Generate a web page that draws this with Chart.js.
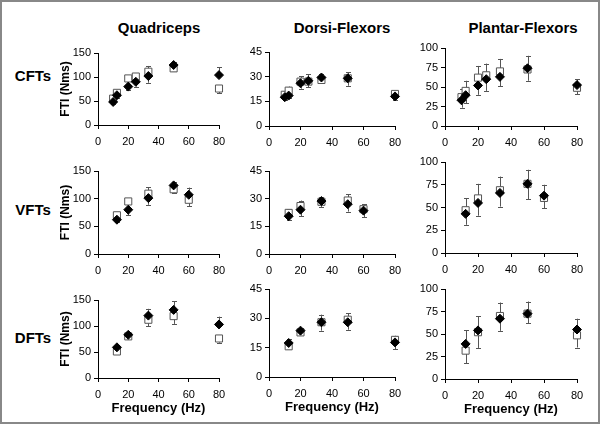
<!DOCTYPE html>
<html>
<head>
<meta charset="utf-8">
<script src="https://cdn.jsdelivr.net/npm/chart.js@4.4.0/dist/chart.umd.min.js"></script>
<style>
  body { margin: 0; background: #fff; }
  #page { position: relative; width: 600px; height: 424px; overflow: hidden; background: #fff;
          font-family: "Liberation Sans", Arial, sans-serif; }
  #frame { position: absolute; left: 0; top: 0; width: 600px; height: 424px; box-sizing: border-box;
           border: 2px solid #888; pointer-events: none; }
  .lbl { position: absolute; font-weight: bold; font-size: 15px; color: #000; white-space: nowrap;
         transform: translate(-50%, -50%); }
  canvas { position: absolute; }
</style>
</head>
<body>
<div id="page">
  <div class="lbl" style="left:159px; top:27px;">Quadriceps</div>
  <div class="lbl" style="left:342px; top:27px;">Dorsi-Flexors</div>
  <div class="lbl" style="left:523px; top:27px;">Plantar-Flexors</div>
  <div class="lbl" style="left:33px; top:75px;">CFTs</div>
  <div class="lbl" style="left:33px; top:209px;">VFTs</div>
  <div class="lbl" style="left:33px; top:337px;">DFTs</div>
  <div id="frame"></div>
</div>
<script>
// frequencies (Hz) for each train type
var cftFreq = [10, 12.5, 20, 25, 33.3, 50, 80];
var vftFreq = [12.5, 20, 33.3, 50, 60];
var dftFreq = [12.5, 20, 33.3, 50, 80];

// tick labels
var xTicks = [0, 20, 40, 60, 80];
var quadTicks = [0, 50, 100, 150];
var dorsiTicks = [0, 15, 30, 45];
var plantarTicks = [0, 25, 50, 75, 100];

// FTI (Nms): A = filled diamonds, B = open squares
var quadCftA = [48, 62, 80, 90, 102, 125, 104];
var quadCftB = [55, 67, 97, 101, 111, 118, 76];
var quadCftAErr = [5, 5, 8, 10, 14, 6, 16];
var quadCftBErr = [5, 5, 5, 7, 12, 6, 10];

var dorsiCftA = [17.5, 18.5, 26, 27.5, 29.5, 29, 18];
var dorsiCftB = [19, 21.5, 27, 27, 28, 29, 19.5];
var dorsiCftAErr = [1.5, 1.5, 3.3, 4, 2.3, 3.6, 2];
var dorsiCftBErr = [2.3, 2.5, 3.2, 3.5, 2, 4.5, 1.8];

var plantarCftA = [33, 39.5, 52, 60, 63, 74, 52.5];
var plantarCftB = [37, 45, 62, 65, 70, 72.5, 49];
var plantarCftAErr = [9.5, 10, 12, 15, 12, 16, 7.5];
var plantarCftBErr = [11, 13, 15, 15, 16, 14.5, 8];

var quadVftA = [62, 80, 101, 124, 107];
var quadVftB = [70, 95, 109, 117, 98];
var quadVftAErr = [5, 10, 12, 6, 13];
var quadVftBErr = [5, 6, 12, 6, 12];

var dorsiVftA = [20.5, 24, 28.7, 27, 23.5];
var dorsiVftB = [22.3, 26, 28.3, 29, 24.3];
var dorsiVftAErr = [2.2, 3.5, 2.3, 4, 3.5];
var dorsiVftBErr = [2, 3, 2.8, 3.3, 2.7];

var plantarVftA = [43, 55, 66, 76, 63];
var plantarVftB = [47, 60, 69, 76, 60.5];
var plantarVftAErr = [12, 14, 15, 15.5, 12];
var plantarVftBErr = [13, 16, 15, 17, 11.5];

var quadDftA = [59, 83, 120, 131, 103];
var quadDftB = [51, 80, 112, 119, 76];
var quadDftAErr = [5, 5, 13, 17, 15];
var quadDftBErr = [5, 4, 12, 15, 8];

var dorsiDftA = [17.4, 23.7, 28, 28, 17.7];
var dorsiDftB = [15.7, 22.8, 28, 29.3, 19];
var dorsiDftAErr = [2, 1.5, 3.9, 3.8, 3.4];
var dorsiDftBErr = [1.5, 1, 4.3, 3.4, 2.1];

var plantarDftA = [39, 54, 67, 72.6, 55];
var plantarDftB = [31.5, 52, 70, 72.6, 48.5];
var plantarDftAErr = [15, 16, 13.5, 13.5, 12];
var plantarDftBErr = [14, 17.5, 15, 10.5, 13.5];

var FONT = "'Liberation Sans', Arial, sans-serif";

// error bars point away from the other series at the same frequency
var errorBars = {
  id: "errorBars",
  beforeDatasetsDraw: function(chart) {
    var ctx = chart.ctx;
    var yScale = chart.scales.y;
    var sets = chart.data.datasets;
    ctx.save();
    ctx.strokeStyle = "#555";
    ctx.lineWidth = 1;
    sets.forEach(function(ds, i) {
      var other = sets[1 - i];
      chart.getDatasetMeta(i).data.forEach(function(pt, j) {
        var v = ds.data[j].y;
        var o = other.data[j].y;
        var up = v > o || (v === o && i === 0);
        var end = yScale.getPixelForValue(up ? v + ds.err[j] : v - ds.err[j]);
        var x = Math.round(pt.x) + 0.5;
        ctx.beginPath();
        ctx.moveTo(x, pt.y);
        ctx.lineTo(x, end);
        ctx.moveTo(x - 2.5, Math.round(end) + 0.5);
        ctx.lineTo(x + 2.5, Math.round(end) + 0.5);
        ctx.stroke();
      });
    });
    ctx.restore();
  }
};

function toPoints(freq, vals) {
  return freq.map(function(f, i) { return { x: f, y: vals[i] }; });
}

function axisGrid() {
  return { display: true, drawOnChartArea: false, drawTicks: true, tickLength: 4, color: "#000" };
}

// box = [left, right, top, bottom] of the plot area on the page
function panel(box, freq, a, b, aErr, bErr, yTicks, yTitle, xTitle) {
  var padTop = 10, padRight = 14, yW = 40;
  var xH = xTitle ? 38 : 24;
  var c = document.createElement("canvas");
  var w = box[1] - box[0] + yW + padRight;
  var h = box[3] - box[2] + padTop + xH;
  c.width = w;
  c.height = h;
  c.style.left = (box[0] - yW) + "px";
  c.style.top = (box[2] - padTop) + "px";
  c.style.width = w + "px";
  c.style.height = h + "px";
  document.getElementById("page").insertBefore(c, document.getElementById("frame"));

  new Chart(c, {
    type: "scatter",
    data: {
      datasets: [
        {
          data: toPoints(freq, a), err: aErr, clip: false,
          pointStyle: "rectRot", pointRadius: 4.5, pointHoverRadius: 4.5,
          backgroundColor: "#000", borderColor: "#000", borderWidth: 1
        },
        {
          data: toPoints(freq, b), err: bErr, clip: false,
          pointStyle: "rect", pointRadius: 5, pointHoverRadius: 5,
          backgroundColor: "#fff", borderColor: "#555", borderWidth: 1
        }
      ]
    },
    options: {
      responsive: false,
      animation: false,
      layout: { padding: { top: padTop, right: padRight, left: 0, bottom: 0 } },
      plugins: { legend: { display: false }, tooltip: { enabled: false } },
      events: [],
      scales: {
        x: {
          type: "linear", min: 0, max: 80,
          afterBuildTicks: function(s) { s.ticks = xTicks.map(function(v) { return { value: v }; }); },
          afterFit: function(s) { s.height = xH; },
          grid: axisGrid(),
          border: { display: true, color: "#000", width: 1 },
          ticks: { color: "#000", padding: 6, font: { family: FONT, size: 11 } },
          title: {
            display: !!xTitle, text: xTitle || "", color: "#000", padding: 0,
            font: { family: FONT, size: 13, weight: "bold" }
          }
        },
        y: {
          type: "linear", min: 0, max: yTicks[yTicks.length - 1],
          afterBuildTicks: function(s) { s.ticks = yTicks.map(function(v) { return { value: v }; }); },
          afterFit: function(s) { s.width = yW; },
          grid: axisGrid(),
          border: { display: true, color: "#000", width: 1 },
          ticks: { color: "#000", padding: 3, font: { family: FONT, size: 11 } },
          title: {
            display: !!yTitle, text: yTitle || "", color: "#000", padding: 0,
            font: { family: FONT, size: 12, weight: "bold" }
          }
        }
      }
    },
    plugins: [errorBars]
  });
}

var yLab = "FTI (Nms)";
var xLab = "Frequency (Hz)";

panel([98, 219, 53, 125], cftFreq, quadCftA, quadCftB, quadCftAErr, quadCftBErr, quadTicks, yLab, null);
panel([269, 395, 52, 126], cftFreq, dorsiCftA, dorsiCftB, dorsiCftAErr, dorsiCftBErr, dorsiTicks, null, null);
panel([445, 577, 48, 126], cftFreq, plantarCftA, plantarCftB, plantarCftAErr, plantarCftBErr, plantarTicks, null, null);

panel([98, 219, 171, 254], vftFreq, quadVftA, quadVftB, quadVftAErr, quadVftBErr, quadTicks, yLab, null);
panel([269, 395, 171, 254], vftFreq, dorsiVftA, dorsiVftB, dorsiVftAErr, dorsiVftBErr, dorsiTicks, null, null);
panel([445, 577, 162, 253], vftFreq, plantarVftA, plantarVftB, plantarVftAErr, plantarVftBErr, plantarTicks, null, null);

panel([98, 219, 300, 378], dftFreq, quadDftA, quadDftB, quadDftAErr, quadDftBErr, quadTicks, yLab, xLab);
panel([269, 395, 289, 377], dftFreq, dorsiDftA, dorsiDftB, dorsiDftAErr, dorsiDftBErr, dorsiTicks, null, xLab);
panel([445, 577, 289, 379], dftFreq, plantarDftA, plantarDftB, plantarDftAErr, plantarDftBErr, plantarTicks, null, xLab);
</script>
</body>
</html>
